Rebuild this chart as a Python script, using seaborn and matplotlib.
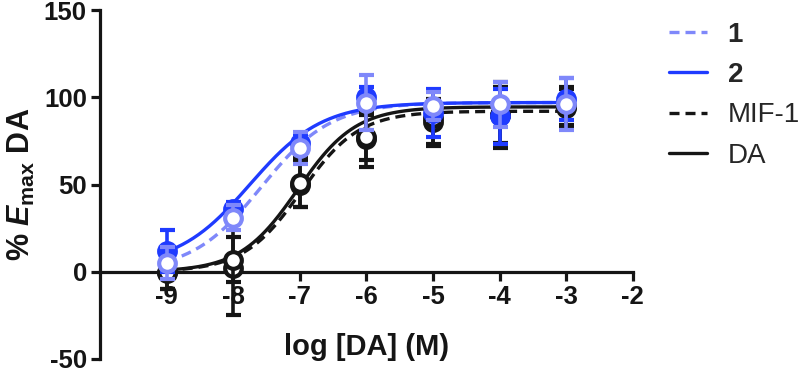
import numpy as np
import pandas as pd
import matplotlib
matplotlib.use("Agg")
import matplotlib.pyplot as plt
import seaborn as sns
from matplotlib.lines import Line2D

# ---- data ----
log_conc = [-9, -8, -7, -6, -5, -4, -3]

c1_mean = [5, 31, 71, 97, 95, 96, 96]
c1_sem = [9, 7, 9, 16, 8, 13, 15]

c2_mean = [12, 36, 74, 100, 91, 89, 99]
c2_sem = [12, 4, 5, 6, 14, 16, 12]

mif_mean = [-1, 2, 50, 76, 86, 90, 94]
mif_sem = [9, 27, 13, 16, 13, 16, 11]

da_mean = [0, 7, 51, 77, 88, 90, 95]
da_sem = [10, 13, 14, 13, 16, 19, 11]

series_names = ["1", "2", "MIF-1", "DA"]

# fitted sigmoid parameters (bottom, top, logEC50, Hill slope) per series
fit_bottom = [0, 3, 0, 0]
fit_top = [97, 97, 92, 94.5]
fit_logec50 = [-7.58, -7.75, -6.98, -7.03]
fit_hill = [0.83, 0.8, 1.0, 1.0]

x_ticks = [-9, -8, -7, -6, -5, -4, -3, -2]
y_ticks = [-50, 0, 50, 100, 150]

# ---- style ----
sns.set_theme(style="ticks")
plt.rcParams["font.family"] = ["Liberation Sans", "DejaVu Sans"]
plt.rcParams["mathtext.fontset"] = "custom"
plt.rcParams["mathtext.it"] = "Liberation Sans:italic:bold"
plt.rcParams["mathtext.rm"] = "Liberation Sans:bold"
plt.rcParams["mathtext.bf"] = "Liberation Sans:bold"

light_blue = "#7F88FA"
dark_blue = "#1F3BFF"
black = "#151515"
colors = [light_blue, dark_blue, black, black]
dash_pat = (3.0, 1.8)
dashes_list = [dash_pat, "", dash_pat, ""]

fig = plt.figure(figsize=(8.0, 3.72), dpi=100)
ax = fig.add_axes([0.125, 0.035, 0.666, 0.938])

# fitted curves
xgrid = np.linspace(-9, -3, 300)
rows = []
for name, b, t, c, h in zip(series_names, fit_bottom, fit_top, fit_logec50, fit_hill):
    yv = b + (t - b) / (1 + 10 ** (h * (c - xgrid)))
    rows.append(pd.DataFrame({"x": xgrid, "y": yv, "series": name}))
curves = pd.concat(rows, ignore_index=True)

sns.lineplot(data=curves, x="x", y="y", hue="series", style="series",
             hue_order=series_names, style_order=series_names,
             palette=dict(zip(series_names, colors)),
             dashes=dict(zip(series_names, dashes_list)),
             linewidth=2.4, legend=False, ax=ax, zorder=2)

# points with error bars (black first, then blue)
means = {"1": c1_mean, "2": c2_mean, "MIF-1": mif_mean, "DA": da_mean}
sems = {"1": c1_sem, "2": c2_sem, "MIF-1": mif_sem, "DA": da_sem}
for name, z in [("MIF-1", 3), ("DA", 4), ("2", 5), ("1", 6)]:
    col = colors[series_names.index(name)]
    mfc = col if name == "2" else "white"
    ax.errorbar(log_conc, means[name], yerr=sems[name], fmt="o", ms=12,
                mfc=mfc, mec=col, mew=3.0, ecolor=col, elinewidth=2.6,
                capsize=5.4, capthick=3.2, zorder=z)

# axes
ax.set_xlim(-10, -2)
ax.set_ylim(-50, 150)
ax.set_xticks(x_ticks)
ax.set_yticks(y_ticks)
ax.set_xticklabels([str(v) for v in x_ticks])
ax.set_yticklabels([str(v) for v in y_ticks])
for s in ["top", "right"]:
    ax.spines[s].set_visible(False)
ax.spines["bottom"].set_position(("data", 0))
for s in ["left", "bottom"]:
    ax.spines[s].set_linewidth(2.3)
    ax.spines[s].set_color(black)
ax.tick_params(axis="both", width=2.3, length=6.5, color=black,
               labelsize=18.5, labelcolor=black, pad=3)
for lab in ax.get_xticklabels() + ax.get_yticklabels():
    lab.set_fontweight("bold")

ax.set_xlabel("log [DA] (M)", fontsize=21, fontweight="bold", color=black, labelpad=17)
ax.set_ylabel(r"% $\mathit{E}_{\mathrm{max}}$ DA", fontsize=22, fontweight="bold",
              color=black, labelpad=5)

# legend
handles = [Line2D([], [], color=light_blue, lw=2.4, dashes=dash_pat),
           Line2D([], [], color=dark_blue, lw=2.4),
           Line2D([], [], color=black, lw=2.4, dashes=dash_pat),
           Line2D([], [], color=black, lw=2.4)]
leg = fig.legend(handles, series_names, loc="upper left", bbox_to_anchor=(0.836, 0.942),
                 frameon=False, fontsize=20, handlelength=1.37, handletextpad=0.75,
                 labelspacing=0.52, borderpad=0, borderaxespad=0)
for t in leg.get_texts()[:2]:
    t.set_fontweight("bold")

fig.savefig("out.png", dpi=100)
